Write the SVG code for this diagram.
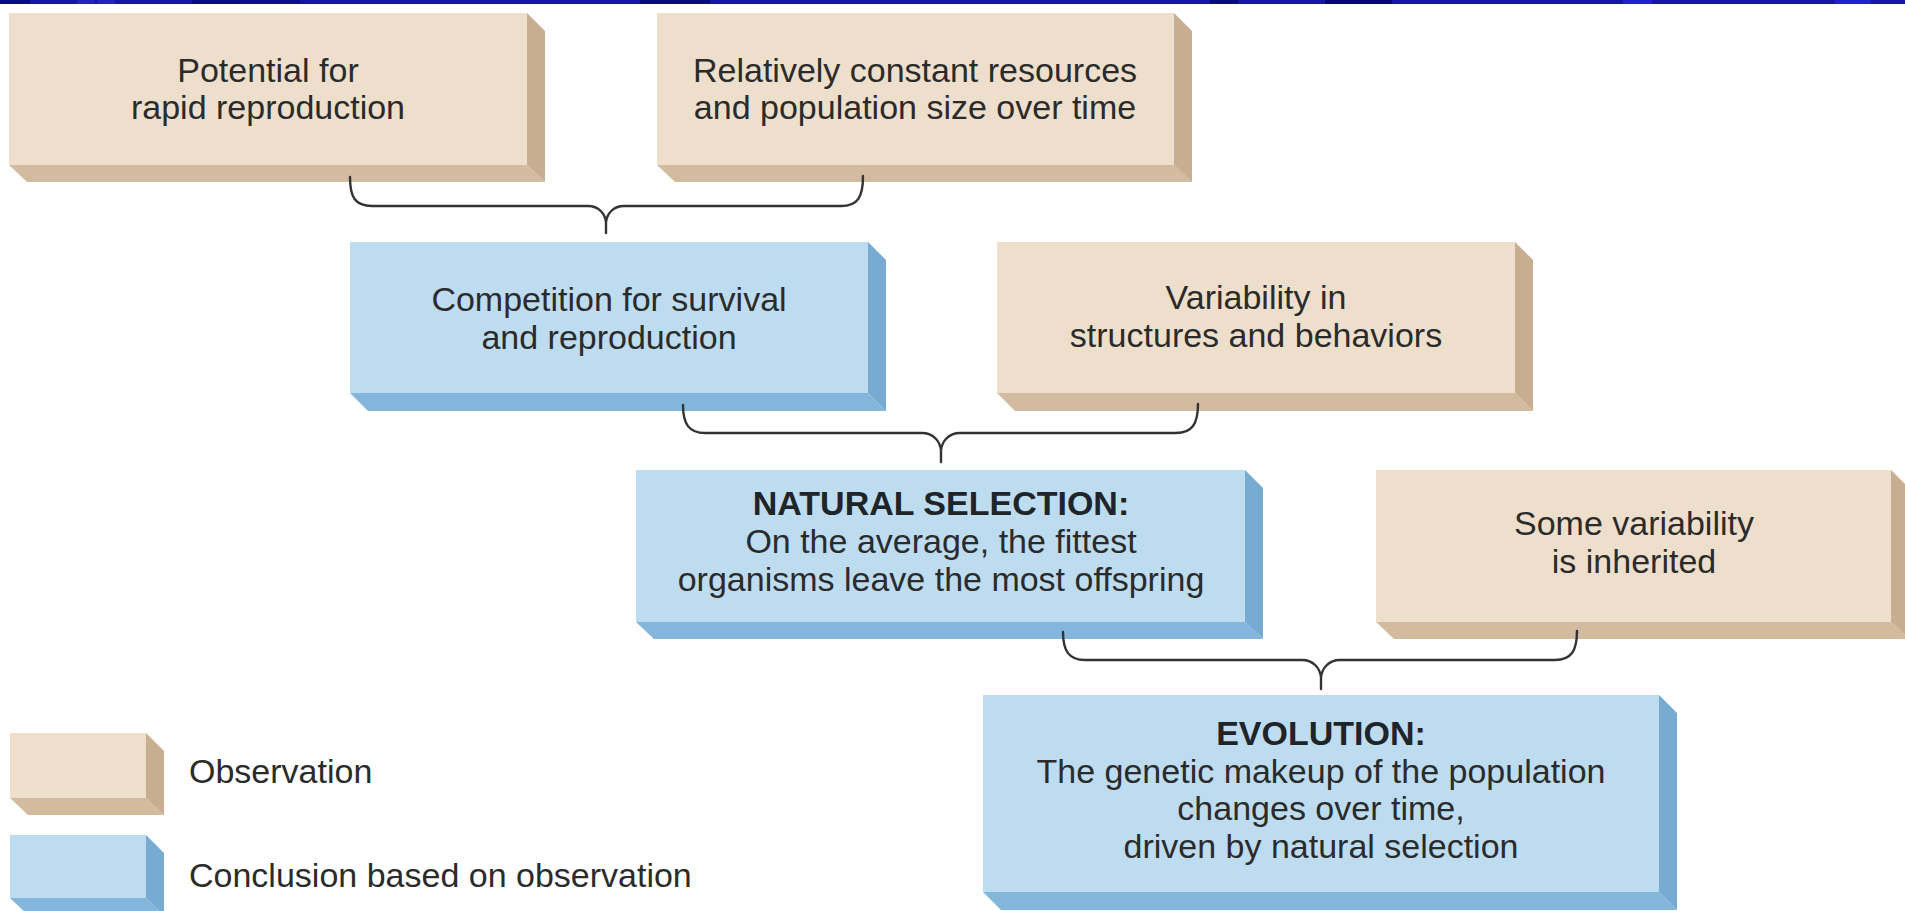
<svg xmlns="http://www.w3.org/2000/svg" width="1905" height="911" viewBox="0 0 1905 911">
  <style>
    .txt { font-family: "Liberation Sans", Arial, sans-serif; font-size: 34px; fill: #2b2b2b; text-anchor: middle; }
    .bold { font-weight: bold; fill: #1f2428; }
    .leg { text-anchor: start; }
    .obs .face { fill: #eddfcc; }
    .obs .side { fill: #c8ae91; }
    .obs .under { fill: #d2bb9f; }
    .con .face { fill: #bddcf0; }
    .con .side { fill: #77abd2; }
    .con .under { fill: #84b5da; }
    .brace { fill: none; stroke: #333333; stroke-width: 2.4; stroke-linecap: round; stroke-linejoin: round; }
  </style>

  <rect x="0" y="0" width="1905" height="911" fill="#ffffff"/>

  <!-- title bar strip along the top edge -->
  <g id="top-strip">
    <rect x="0" y="0" width="1905" height="4" fill="#1616a6"/>
    <rect x="0" y="0" width="30" height="4" fill="#0a0a86"/>
    <rect x="77" y="0" width="18" height="4" fill="#2222c0"/>
    <rect x="97" y="0" width="18" height="4" fill="#2222c0"/>
    <rect x="192" y="0" width="48" height="4" fill="#0a0a86"/>
    <rect x="240" y="0" width="60" height="4" fill="#0c0c8c"/>
    <rect x="640" y="0" width="70" height="4" fill="#0a0a80"/>
    <rect x="1210" y="0" width="28" height="4" fill="#0a0a80"/>
    <rect x="1325" y="0" width="67" height="4" fill="#06067a"/>
    <rect x="1623" y="0" width="29" height="4" fill="#2020d0"/>
    <rect x="1835" y="0" width="36" height="4" fill="#2020d0"/>
  </g>

  <!-- observation boxes (tan) and conclusion boxes (blue), each with an 18px extrusion -->
  <g id="box-potential" class="obs">
    <polygon class="under" points="9,165 527,165 545,182 27,182"/>
    <polygon class="side" points="527,13 545,31 545,182 527,165"/>
    <rect class="face" x="9" y="13" width="518" height="152"/>
    <text class="txt" x="268" y="82">Potential for</text>
    <text class="txt" x="268" y="119">rapid reproduction</text>
  </g>

  <g id="box-resources" class="obs">
    <polygon class="under" points="657,165 1174,165 1192,182 675,182"/>
    <polygon class="side" points="1174,13 1192,31 1192,182 1174,165"/>
    <rect class="face" x="657" y="13" width="517" height="152"/>
    <text class="txt" x="915" y="82">Relatively constant resources</text>
    <text class="txt" x="915" y="119">and population size over time</text>
  </g>

  <g id="box-competition" class="con">
    <polygon class="under" points="350,393 868,393 886,411 368,411"/>
    <polygon class="side" points="868,242 886,260 886,411 868,393"/>
    <rect class="face" x="350" y="242" width="518" height="151"/>
    <text class="txt" x="609" y="311">Competition for survival</text>
    <text class="txt" x="609" y="349">and reproduction</text>
  </g>

  <g id="box-variability" class="obs">
    <polygon class="under" points="997,393 1515,393 1533,411 1015,411"/>
    <polygon class="side" points="1515,242 1533,260 1533,411 1515,393"/>
    <rect class="face" x="997" y="242" width="518" height="151"/>
    <text class="txt" x="1256" y="309">Variability in</text>
    <text class="txt" x="1256" y="347">structures and behaviors</text>
  </g>

  <g id="box-natural-selection" class="con">
    <polygon class="under" points="636,622 1245,622 1263,639 654,639"/>
    <polygon class="side" points="1245,470 1263,488 1263,639 1245,622"/>
    <rect class="face" x="636" y="470" width="609" height="152"/>
    <text class="txt bold" x="941" y="515">NATURAL SELECTION:</text>
    <text class="txt" x="941" y="553">On the average, the fittest</text>
    <text class="txt" x="941" y="591">organisms leave the most offspring</text>
  </g>

  <g id="box-inherited" class="obs">
    <polygon class="under" points="1376,622 1891,622 1909,639 1394,639"/>
    <polygon class="side" points="1891,470 1909,488 1909,639 1891,622"/>
    <rect class="face" x="1376" y="470" width="515" height="152"/>
    <text class="txt" x="1634" y="535">Some variability</text>
    <text class="txt" x="1634" y="573">is inherited</text>
  </g>

  <g id="box-evolution" class="con">
    <polygon class="under" points="983,892 1659,892 1677,910 1001,910"/>
    <polygon class="side" points="1659,695 1677,713 1677,910 1659,892"/>
    <rect class="face" x="983" y="695" width="676" height="197"/>
    <text class="txt bold" x="1321" y="745">EVOLUTION:</text>
    <text class="txt" x="1321" y="783">The genetic makeup of the population</text>
    <text class="txt" x="1321" y="820">changes over time,</text>
    <text class="txt" x="1321" y="858">driven by natural selection</text>
  </g>

  <!-- braces joining each pair of boxes into the next one -->
  <g id="connectors">
    <path class="brace" d="M350,177 C350,197 355,206 372,206 L588,206 C599,206 605,214 606,222 L606,233 M606,222 C607,214 613,206 624,206 L841,206 C858,206 863,197 863,176"/>
    <path class="brace" d="M683,405 C683,424 689,433 705,433 L922,433 C934,433 940,442 941,450 L941,462 M941,450 C942,442 948,433 960,433 L1176,433 C1192,433 1198,424 1198,404"/>
    <path class="brace" d="M1063,632 C1063,651 1069,660 1085,660 L1302,660 C1314,660 1320,669 1321,677 L1321,689 M1321,677 C1322,669 1328,660 1340,660 L1555,660 C1571,660 1577,651 1577,631"/>
  </g>

  <!-- key -->
  <g id="legend-observation" class="obs">
    <polygon class="under" points="10,798 146,798 164,815 28,815"/>
    <polygon class="side" points="146,733 164,751 164,815 146,798"/>
    <rect class="face" x="10" y="733" width="136" height="65"/>
    <text class="txt leg" x="189" y="783">Observation</text>
  </g>

  <g id="legend-conclusion" class="con">
    <polygon class="under" points="10,898 146,898 164,915 28,915"/>
    <polygon class="side" points="146,835 164,853 164,915 146,898"/>
    <rect class="face" x="10" y="835" width="136" height="63"/>
    <text class="txt leg" x="189" y="887">Conclusion based on observation</text>
  </g>
</svg>
